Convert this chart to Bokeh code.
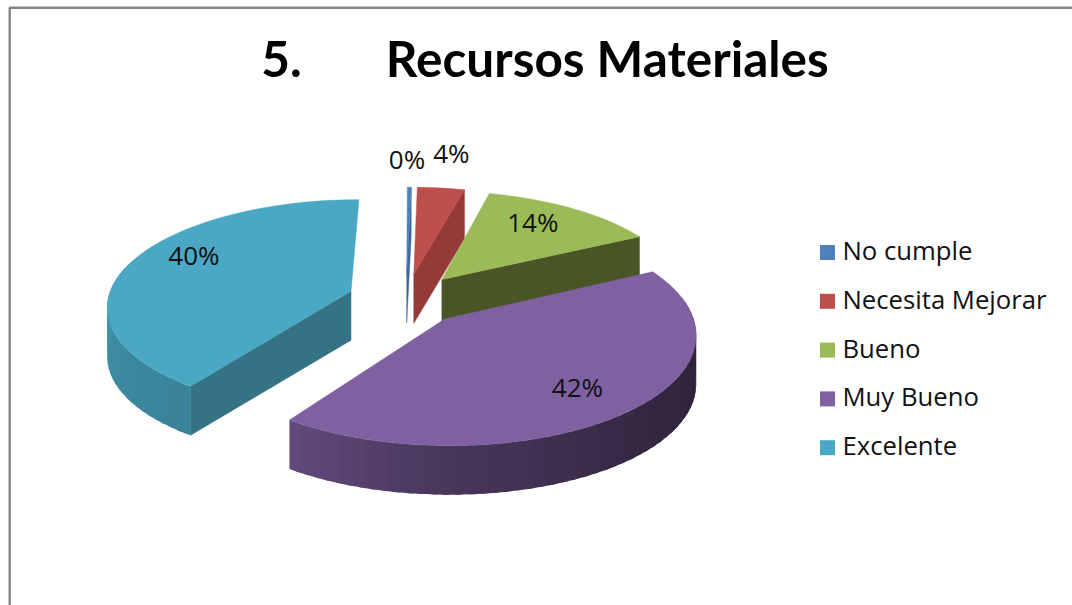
import numpy as np
from bokeh.plotting import figure
from bokeh.embed import file_html
from bokeh.resources import INLINE
from bokeh.core.properties import value

# --- data ---
categories = ["No cumple", "Necesita Mejorar", "Bueno", "Muy Bueno", "Excelente"]
percentages = [0.3, 3.7, 13.6, 42.2, 40.2]
title_text = "5.\u00a0\u00a0\u00a0\u00a0\u00a0\u00a0\u00a0Recursos Materiales"

# --- style ---
TOP = ["#4F81BD", "#BE4F4D", "#9BBB59", "#7F60A0", "#4AA8C4"]
CUT = ["#3F6797", "#963A38", "#4A5526", "#33284A", "#347284"]
CX, CY = 405.5, 298.5      # pie centre on the page
RX, RY = 243.0, 107.5      # radii
KX, KY = 0.13, 0.13        # perspective
EXPLODE = 0.24
DEPTH = 49.0
START = 0.2
LABEL_R = [1.34, 1.5, 0.72, 0.75, 0.76]
LABEL_NUDGE = [(-3, -5), (0, -2), (-6, -5), (0, -1), (10, -12)]


def proj(r, deg, mid):
    t, m = np.radians(deg), np.radians(mid)
    u = r * np.sin(t) + EXPLODE * np.sin(m)
    v = -r * np.cos(t) - EXPLODE * np.cos(m)
    return CX + RX * u * (1 + KX * v), CY + RY * v * (1 + KY * v)


def shade(color, deg):
    b = np.interp(deg, [90, 135, 180, 216, 280], [0.36, 0.42, 0.57, 0.78, 0.88])
    rgb = [int(color[k:k + 2], 16) * b for k in (1, 3, 5)]
    return "#%02x%02x%02x" % tuple(int(c) for c in rgb)


p = figure(width=1072, height=605, x_range=(0, 1072), y_range=(605, 0),
           toolbar_location=None, output_backend="svg", min_border=0,
           x_axis_type=None, y_axis_type=None, outline_line_color=None)
p.grid.visible = False

# chart frame
p.line([9.2, 9.2, 1072], [605, 7.2, 7.2], line_color="#868686", line_width=2.4)

total = sum(percentages)
edges = START + np.concatenate([[0], np.cumsum(percentages)]) / total * 360
mids = (edges[:-1] + edges[1:]) / 2

for i in [4, 0, 1, 2, 3]:
    a0, a1, m = edges[i], edges[i + 1], mids[i]
    ax, ay = proj(0, 0, m)
    n = max(3, int((a1 - a0) / 2.5) + 1)
    arc = np.linspace(a0, a1, n)
    step = arc[1] - arc[0]
    # outer rim, front part only; each quad overlaps the next to avoid seams
    xs, ys, cs = [], [], []
    for d0 in arc[:-1]:
        if 80 < d0 + step / 2 < 285:
            seg = np.linspace(d0, min(d0 + 1.5 * step, a1), 4)
            sx, sy = proj(1, seg, m)
            xs.append(np.r_[sx, sx[::-1]])
            ys.append(np.r_[sy, sy[::-1] + DEPTH])
            cs.append(shade(TOP[i], d0 + step / 2))
    if xs:
        p.patches(xs, ys, fill_color=cs, line_color=None)
    # cut faces that look towards the viewer
    if 0 < a1 < 180:
        ex, ey = proj(1, a1, m)
        p.patch([ax, ex, ex, ax], [ay, ey, ey + DEPTH, ay + DEPTH],
                fill_color=CUT[i], line_color=CUT[i], line_width=0.5)
    if a0 > 180:
        ex, ey = proj(1, a0, m)
        p.patch([ax, ex, ex, ax], [ay, ey, ey + DEPTH, ay + DEPTH],
                fill_color=CUT[i], line_color=CUT[i], line_width=0.5)
    # top face
    tx, ty = proj(1, arc, m)
    p.patch(np.r_[ax, tx], np.r_[ay, ty],
            fill_color=TOP[i], line_color=TOP[i], line_width=0.5)

# data labels
for i, m in enumerate(mids):
    lx, ly = proj(LABEL_R[i], m, m)
    p.text([lx + LABEL_NUDGE[i][0]], [ly + LABEL_NUDGE[i][1]],
           text=["%d%%" % round(percentages[i])],
           text_font=value("Open Sans"), text_font_size="26px", text_color="#111111",
           text_align="center", text_baseline="middle")

# legend
LEG_X, LEG_Y0, LEG_DY = 827, 252, 48.8
for i, c in enumerate(categories):
    y = LEG_Y0 + LEG_DY * i
    p.rect([LEG_X], [y], width=15, height=15, width_units="screen", height_units="screen",
           fill_color=TOP[i], line_color=None)
    p.text([842], [y - 2], text=[c], text_font=value("Open Sans"), text_font_size="25.7px",
           text_color="#111111", text_align="left", text_baseline="middle")

# title
p.text([544.5], [57], text=[title_text], text_font=value("Lato"), text_font_size="49.5px",
       text_font_style="bold", text_color="#000000", text_align="center", text_baseline="middle")

open("out.html", "w").write(file_html(p, INLINE))
